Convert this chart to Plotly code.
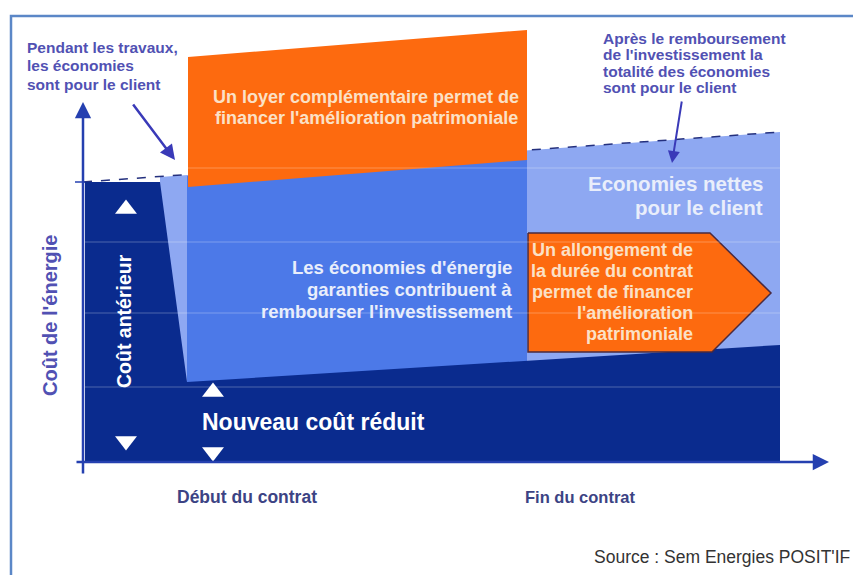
import plotly.graph_objects as go

# ---- data (diagram coordinates, pixel-like units) ----
light_x = [160, 780, 780, 160]
light_y = [177, 132, 462, 462]
medium_x = [187, 527, 527, 187]
medium_y = [176, 150, 462, 462]
orange_x = [188, 527, 527, 188]
orange_y = [57, 30, 160, 187]
dark_x = [85, 160, 187, 780, 780, 85]
dark_y = [182, 182, 382, 345, 462, 462]
pent_x = [528, 710, 771, 712, 528, 528]
pent_y = [233, 233, 293, 352, 352, 233]
dash_x = [83, 780]
dash_y = [182, 132]
grid_y = [168, 242, 313, 387]
tri_up_x = [126, 213]
tri_up_y = [209, 392]
tri_dn_x = [126, 213]
tri_dn_y = [441, 452]

pendant_lines = ["Pendant les travaux,", "les économies", "sont pour le client"]
apres_lines = ["Après le remboursement", "de l'investissement la", "totalité des économies", "sont pour le client"]
loyer_lines = ["Un loyer complémentaire permet de", "financer l'amélioration patrimoniale"]
eco_lines = ["Les économies d'énergie", "garanties contribuent à", "rembourser l'investissement"]
nettes_lines = ["Economies nettes", "pour le client"]
allong_lines = ["Un allongement de", "la durée du contrat", "permet de financer", "l'amélioration", "patrimoniale"]

DARK = "#0a2b8e"
MED = "#4c79e8"
LIGHT = "#8ea8f2"
ORANGE = "#fd6a0f"
AXIS = "#2540b0"
PURPLE = "#5151b3"
PEACH = "#fbe1c6"
PALE = "#e9eefb"
BOLD = "Liberation Sans, Arial, sans-serif"

fig = go.Figure()

def poly(xs, ys, color, line=None):
    fig.add_trace(go.Scatter(x=xs, y=ys, mode="lines", fill="toself", fillcolor=color,
                             line=line or dict(width=0, color=color), hoverinfo="skip",
                             showlegend=False))

poly(light_x, light_y, LIGHT)
poly(medium_x, medium_y, MED)
fig.add_trace(go.Scatter(x=dash_x, y=dash_y, mode="lines",
                         line=dict(color="#24307e", width=1.5, dash="dash"),
                         hoverinfo="skip", showlegend=False))
poly(orange_x, orange_y, ORANGE)
poly(dark_x, dark_y, DARK)
poly(pent_x, pent_y, ORANGE, line=dict(width=1.5, color="#4a2a40"))

for gy in grid_y:
    fig.add_trace(go.Scatter(x=[85, 780], y=[gy, gy], mode="lines",
                             line=dict(color="rgba(255,255,255,0.28)", width=1),
                             hoverinfo="skip", showlegend=False))

fig.add_trace(go.Scatter(x=tri_up_x, y=tri_up_y, mode="markers",
                         marker=dict(symbol="triangle-up", size=19, color="white"),
                         hoverinfo="skip", showlegend=False))
fig.add_trace(go.Scatter(x=tri_dn_x, y=tri_dn_y, mode="markers",
                         marker=dict(symbol="triangle-down", size=19, color="white"),
                         hoverinfo="skip", showlegend=False))

ann = []

def text(x, y, s, size, color, anchor="left", angle=0, family=BOLD, bold=True):
    ann.append(dict(x=x, y=y, xref="x", yref="y", text=(f"<b>{s}</b>" if bold else s),
                    showarrow=False, xanchor=anchor, yanchor="middle", textangle=angle,
                    font=dict(family=family, size=size, color=color)))

for i, s in enumerate(pendant_lines):
    text(25, 47 + i * 18.5, s, 15.5, PURPLE)
for i, s in enumerate(apres_lines):
    text(601, 38 + i * 16.5, s, 15.5, PURPLE)
for i, s in enumerate(loyer_lines):
    text(366, 97 + i * 20.5, s, 18, PEACH, anchor="center")
for i, s in enumerate(eco_lines):
    text(514, 267 + i * 22, s, 18.5, PALE, anchor="right")
for i, s in enumerate(nettes_lines):
    text(765, 183 + i * 24, s, 20.5, PALE, anchor="right")
for i, s in enumerate(allong_lines):
    text(695, 250 + i * 21, s, 18, PEACH, anchor="right")

text(124, 321, "Coût antérieur", 19.5, "white", anchor="center", angle=-90)
text(50, 316, "Coût de l'énergie", 20, PURPLE, anchor="center", angle=-90)
text(200, 422, "Nouveau coût réduit", 23, "white")
text(247, 497, "Début du contrat", 17.5, "#3c4384", anchor="center")
text(580, 497, "Fin du contrat", 16.5, "#3c4384", anchor="center")
text(592, 557, "Source : Sem Energies POSIT'IF", 17.5, "#333333", bold=False)

# axes arrows
ann.append(dict(x=83, y=102, ax=83, ay=475, xref="x", yref="y", axref="x", ayref="y",
                text="", showarrow=True, arrowhead=2, arrowsize=1.3, arrowwidth=2.5,
                arrowcolor=AXIS))
ann.append(dict(x=829, y=462, ax=75, ay=462, xref="x", yref="y", axref="x", ayref="y",
                text="", showarrow=True, arrowhead=2, arrowsize=1.3, arrowwidth=2.5,
                arrowcolor=AXIS))
# pointer arrows
ann.append(dict(x=175, y=160, ax=132, ay=103, xref="x", yref="y", axref="x", ayref="y",
                text="", showarrow=True, arrowhead=2, arrowsize=1.2, arrowwidth=2.5,
                arrowcolor="#3a3ab8"))
ann.append(dict(x=672, y=163, ax=682, ay=100, xref="x", yref="y", axref="x", ayref="y",
                text="", showarrow=True, arrowhead=2, arrowsize=1.2, arrowwidth=2,
                arrowcolor="#3a3ab8"))

shapes = [
    dict(type="line", xref="x", yref="y", x0=75, y0=182, x1=85, y1=182,
         line=dict(color=AXIS, width=1.5)),
    dict(type="path", xref="x", yref="y", path="M 11,600 L 11,16 L 870,16",
         line=dict(color="#5b87c7", width=2.5)),
]

fig.update_layout(
    width=853, height=575, margin=dict(l=0, r=0, t=0, b=0),
    paper_bgcolor="white", plot_bgcolor="white",
    xaxis=dict(range=[0, 853], visible=False, fixedrange=True),
    yaxis=dict(range=[575, 0], visible=False, fixedrange=True),
    annotations=ann, shapes=shapes, showlegend=False,
)

fig.write_html("out.html", config={"displayModeBar": False},
               post_script="document.body.style.margin='0';document.body.style.overflow='hidden';")
